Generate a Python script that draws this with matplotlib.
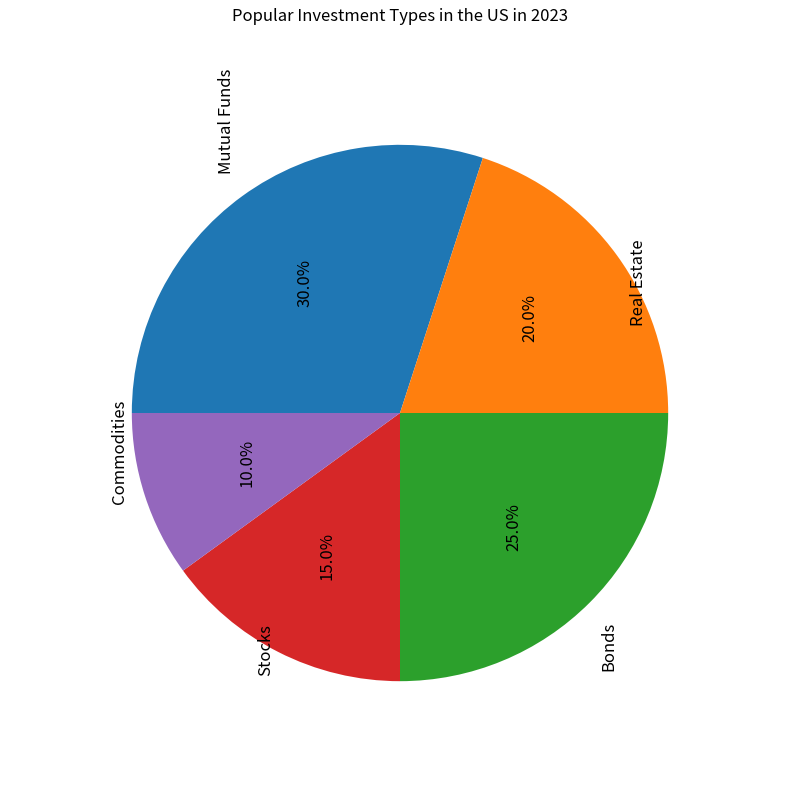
import matplotlib
matplotlib.use("Agg")
import matplotlib.pyplot as plt

plt.rcParams['font.family'] = ['Noto Sans CJK SC', 'DejaVu Sans']

labels = ["Mutual Funds", "Real Estate", "Bonds", "Stocks", "Commodities"]
values = [30, 20, 25, 15, 10]
label_va = ["bottom", "top", "top", "bottom", "bottom"]

fig = plt.figure(figsize=(8, 8), dpi=100)
ax = fig.add_axes([105/800, 92/800, 590/800, 590/800])
wedges, texts, autotexts = ax.pie(values, labels=labels, autopct='%1.1f%%',
                                  startangle=180, counterclock=False,
                                  textprops={'fontsize': 12})
for t, va in zip(texts, label_va):
    t.set_rotation(90)
    t.set_ha('center')
    t.set_va(va)
for t in autotexts:
    t.set_rotation(90)
ax.set_title("Popular Investment Types in the US in 2023", fontsize=12, y=1.15)
ax.axis('equal')
fig.savefig("out.png")
